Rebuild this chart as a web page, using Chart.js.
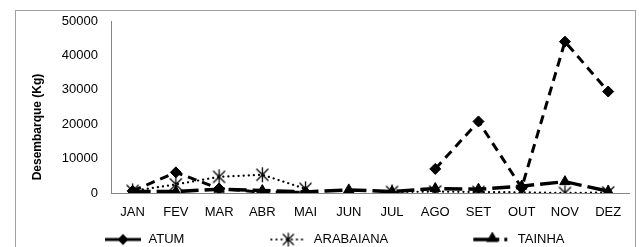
<!DOCTYPE html>
<html><head><meta charset="utf-8">
<script src="https://cdn.jsdelivr.net/npm/chart.js@4.4.0/dist/chart.umd.min.js"></script>
<style>html,body{margin:0;padding:0;background:#fff;}#wrap{width:639px;height:247px;}</style>
</head><body><div id="wrap"><canvas id="c" width="639" height="247"></canvas></div>
<script>
// ---- data ----
const months = ['JAN','FEV','MAR','ABR','MAI','JUN','JUL','AGO','SET','OUT','NOV','DEZ'];
const atum = [600, 6000, 1300, 200, 200, null, null, 7000, 20800, 1500, 44000, 29500];
const arabaiana = [600, 2500, 4700, 5300, 1200, null, 300, 400, 300, 200, 0, 150];
const tainha = [500, 400, 1100, 700, 300, 900, 400, 1300, 1100, 2000, 3300, 500];
const seriesNames = ['ATUM', 'ARABAIANA', 'TAINHA'];
const yTickValues = [0, 10000, 20000, 30000, 40000, 50000];
const yTitle = 'Desembarque (Kg)';

const FONT = '"Liberation Sans", Arial, sans-serif';

function drawStar(g, x, y, s) {
  g.beginPath();
  g.moveTo(x - s, y - s); g.lineTo(x + s, y + s);
  g.moveTo(x + s, y - s); g.lineTo(x - s, y + s);
  g.moveTo(x, y - s * 1.25); g.lineTo(x, y + s * 1.25);
  g.stroke();
}
function starImg() {
  const c = document.createElement('canvas'); c.width = 17; c.height = 17;
  const g = c.getContext('2d'); g.strokeStyle = '#000'; g.lineWidth = 1.3;
  drawStar(g, 8.5, 8.5, 6);
  return c;
}
function diamond(g, x, y, r) {
  g.beginPath(); g.moveTo(x, y - r); g.lineTo(x + r, y); g.lineTo(x, y + r); g.lineTo(x - r, y); g.closePath(); g.fill();
}
function triangle(g, x, y, r) {
  g.beginPath(); g.moveTo(x, y - r); g.lineTo(x + r * 0.866, y + r * 0.5); g.lineTo(x - r * 0.866, y + r * 0.5); g.closePath(); g.fill();
}
function legendImg(kind) {
  const c = document.createElement('canvas'); c.width = 113; c.height = 16;
  const g = c.getContext('2d'); g.strokeStyle = '#000'; g.fillStyle = '#000';
  const y = 8, cx = 94;
  if (kind === 0) {
    g.lineWidth = 3; g.beginPath(); g.moveTo(76, y); g.lineTo(112, y); g.stroke();
    diamond(g, cx, y, 5.5);
  } else if (kind === 1) {
    g.lineWidth = 2.2; g.lineCap = 'round'; g.setLineDash([0.1, 5]);
    g.beginPath(); g.moveTo(77, y); g.lineTo(112, y); g.stroke();
    g.setLineDash([]); g.lineCap = 'butt'; g.lineWidth = 1.3; drawStar(g, cx, y, 5.5);
  } else {
    g.lineWidth = 3.5; g.beginPath(); g.moveTo(75, y); g.lineTo(101, y); g.moveTo(106, y); g.lineTo(109, y); g.stroke();
    triangle(g, cx, y - 1, 7);
  }
  return c;
}
const legendImgs = [legendImg(0), legendImg(1), legendImg(2)];

const frame = {
  id: 'frame',
  beforeDraw(chart) {
    const ctx = chart.ctx; ctx.save();
    ctx.fillStyle = '#fff'; ctx.fillRect(0, 0, chart.width, chart.height);
    ctx.strokeStyle = '#a0a0a0'; ctx.lineWidth = 1;
    ctx.strokeRect(15.5, 10.5, 620, 260);
    ctx.restore();
  },
  afterDraw(chart) {
    const ctx = chart.ctx; ctx.save();
    ctx.font = 'bold 12px ' + FONT; ctx.fillStyle = '#000';
    ctx.translate(38, 127); ctx.rotate(-Math.PI / 2);
    ctx.textAlign = 'center'; ctx.textBaseline = 'middle';
    ctx.fillText(yTitle, 0, 0);
    ctx.restore();
  }
};

new Chart(document.getElementById('c'), {
  type: 'line',
  data: {
    labels: months,
    datasets: [
      { label: seriesNames[0], data: atum, order: 3, borderColor: '#000', borderWidth: 3, borderDash: [9, 6],
        pointStyle: 'rectRot', pointRadius: 5.5, pointBackgroundColor: '#000', pointBorderColor: '#000', pointBorderWidth: 1,
        spanGaps: false, tension: 0, fill: false },
      { label: seriesNames[1], data: arabaiana, order: 2, borderColor: '#000', borderWidth: 2.2, borderDash: [0.1, 5], borderCapStyle: 'round',
        pointStyle: starImg(), pointRadius: 7, pointBackgroundColor: '#000', pointBorderColor: '#000',
        spanGaps: false, tension: 0, fill: false },
      { label: seriesNames[2], data: tainha, order: 1, borderColor: '#000', borderWidth: 3.5, borderDash: [18, 6],
        pointStyle: 'triangle', pointRadius: 6, pointBackgroundColor: '#000', pointBorderColor: '#000', pointBorderWidth: 1,
        spanGaps: false, tension: 0, fill: false }
    ]
  },
  options: {
    responsive: false, animation: false, devicePixelRatio: 1,
    layout: { padding: { left: 19, right: 4, top: 21, bottom: 0 } },
    plugins: {
      tooltip: { enabled: false },
      legend: {
        position: 'bottom', align: 'start', maxHeight: 24,
        labels: {
          usePointStyle: true, pointStyleWidth: 113, padding: 10, color: '#000',
          font: { family: FONT, size: 13 },
          generateLabels: () => seriesNames.map((n, i) => ({
            text: n, pointStyle: legendImgs[i], fillStyle: '#000', strokeStyle: '#000',
            lineWidth: 0, hidden: false, datasetIndex: i, fontColor: '#000'
          }))
        }
      }
    },
    scales: {
      x: {
        offset: true,
        grid: { display: false, drawTicks: false },
        border: { display: true, color: '#868686', width: 1 },
        ticks: { padding: 12, color: '#000', font: { family: FONT, size: 13 } },
        afterFit(s) { s.height = 30; }
      },
      y: {
        min: 0, max: 50000,
        afterBuildTicks(s) { s.ticks = yTickValues.map(v => ({ value: v })); },
        grid: { display: false, drawTicks: false },
        border: { display: true, color: '#868686', width: 1 },
        ticks: { padding: 13, color: '#000', font: { family: FONT, size: 13 }, callback: (v) => String(v) },
        afterFit(s) { s.width = 92; }
      }
    }
  },
  plugins: [frame]
});
</script></body></html>
